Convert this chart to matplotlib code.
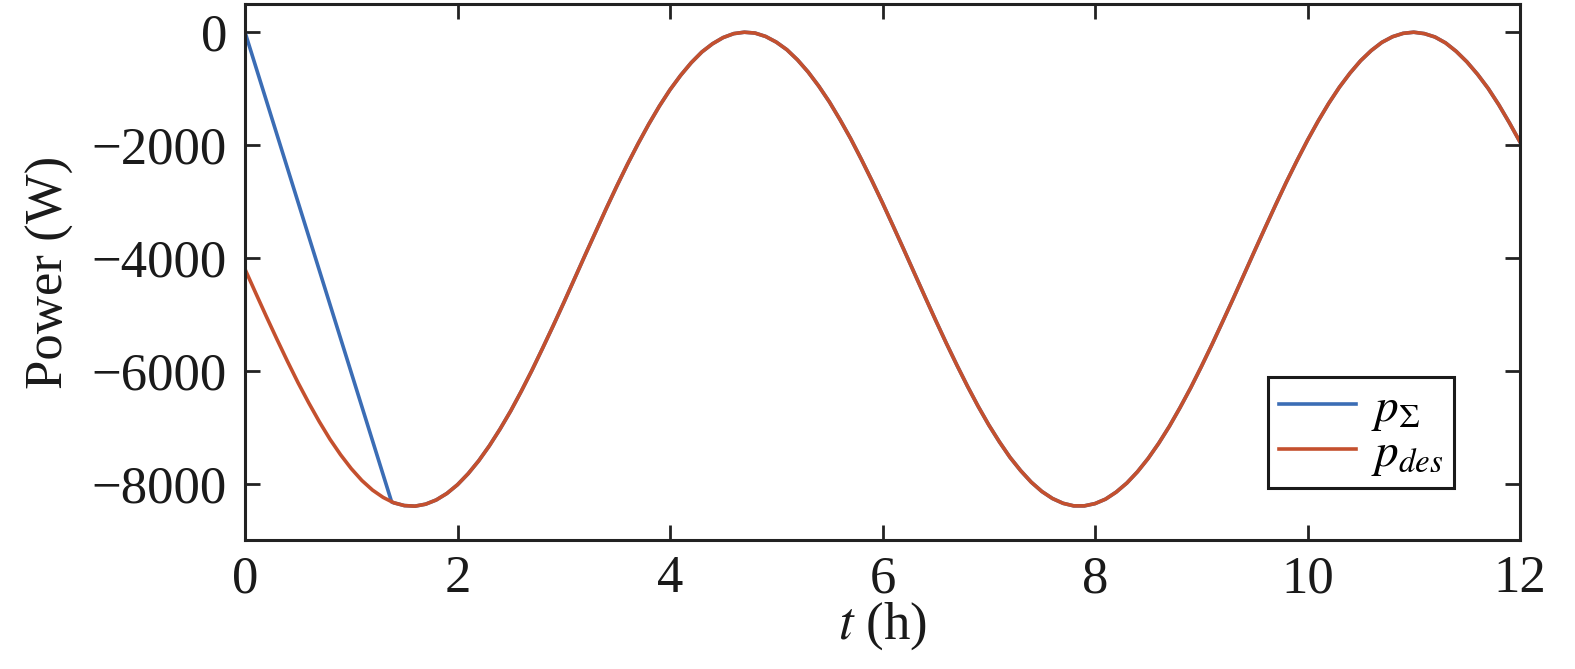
import matplotlib
matplotlib.use("Agg")
import matplotlib.pyplot as plt

# valores (t en horas, potencia en W), paso 0.1 h
t_des = [round(0.1 * i, 1) for i in range(121)]
p_des = [-4200, -4620, -5035, -5440, -5835, -6215, -6570, -6905, -7215, -7490,
         -7735, -7945, -8115, -8245, -8340, -8390, -8400, -8365, -8290, -8175,
         -8020, -7825, -7595, -7330, -7035, -6715, -6365, -5995, -5605, -5205,
         -4795, -4375, -3955, -3540, -3125, -2725, -2340, -1975, -1630, -1310,
         -1020, -765, -540, -350, -205, -95, -25, 0, -15, -75,
         -175, -310, -490, -705, -955, -1235, -1550, -1885, -2250, -2630,
         -3025, -3435, -3850, -4270, -4690, -5105, -5510, -5900, -6275, -6630,
         -6960, -7260, -7535, -7770, -7975, -8140, -8265, -8350, -8395, -8395,
         -8355, -8275, -8150, -7990, -7790, -7555, -7285, -6985, -6655, -6305,
         -5930, -5540, -5135, -4725, -4305, -3885, -3470, -3060, -2660, -2280,
         -1915, -1575, -1260, -975, -725, -505, -325, -180, -80, -20,
         0, -25, -85, -190, -340, -525, -745, -995, -1285, -1605,
         -1945]

# p_sigma: rampa inicial desde 0 y luego sigue a p_des
t_sum_start = [0.0, 1.38]
p_sum_start = [0, -8325]

t_sum = t_sum_start + t_des[14:]
p_sum = p_sum_start + p_des[14:]

plt.rcParams["font.family"] = ["Liberation Serif", "DejaVu Serif"]
plt.rcParams["mathtext.fontset"] = "stix"

fig = plt.figure(figsize=(15.75, 6.69), dpi=100)
ax = fig.add_axes([245 / 1575, 1 - 540 / 669, (1520 - 245) / 1575, (540 - 4) / 669])

ax.plot(t_sum, p_sum, color="#3B6DB5", linewidth=2.6, label=r"$p_{\Sigma}$")
ax.plot(t_des, p_des, color="#C4502E", linewidth=2.6, label=r"$p_{des}$")

ax.set_xlim(0, 12)
ax.set_ylim(-9000, 500)
ax.set_xticks([0, 2, 4, 6, 8, 10, 12])
ax.set_yticks([0, -2000, -4000, -6000, -8000])

ax.tick_params(direction="in", length=11, width=2, top=True, right=True,
               labelsize=38, color="#222222", labelcolor="#1a1a1a")
ax.tick_params(axis="x", pad=11)
ax.tick_params(axis="y", pad=13)
for s in ax.spines.values():
    s.set_linewidth(2.2)
    s.set_color("#222222")

ax.set_xlabel(r"$t$ (h)", fontsize=38, labelpad=-2, color="#1a1a1a")
ax.set_ylabel("Power (W)", fontsize=38, labelpad=13, color="#1a1a1a")

leg = ax.legend(loc="lower right", bbox_to_anchor=(0.948, 0.097),
                fontsize=34, frameon=True, fancybox=False, framealpha=1,
                handlelength=1.65, handletextpad=0.3, labelspacing=0.0,
                borderpad=0.22, borderaxespad=0.0)
leg.get_frame().set_edgecolor("#1a1a1a")
leg.get_frame().set_linewidth(2.2)

plt.savefig("out.png", dpi=100)
plt.close(fig)
